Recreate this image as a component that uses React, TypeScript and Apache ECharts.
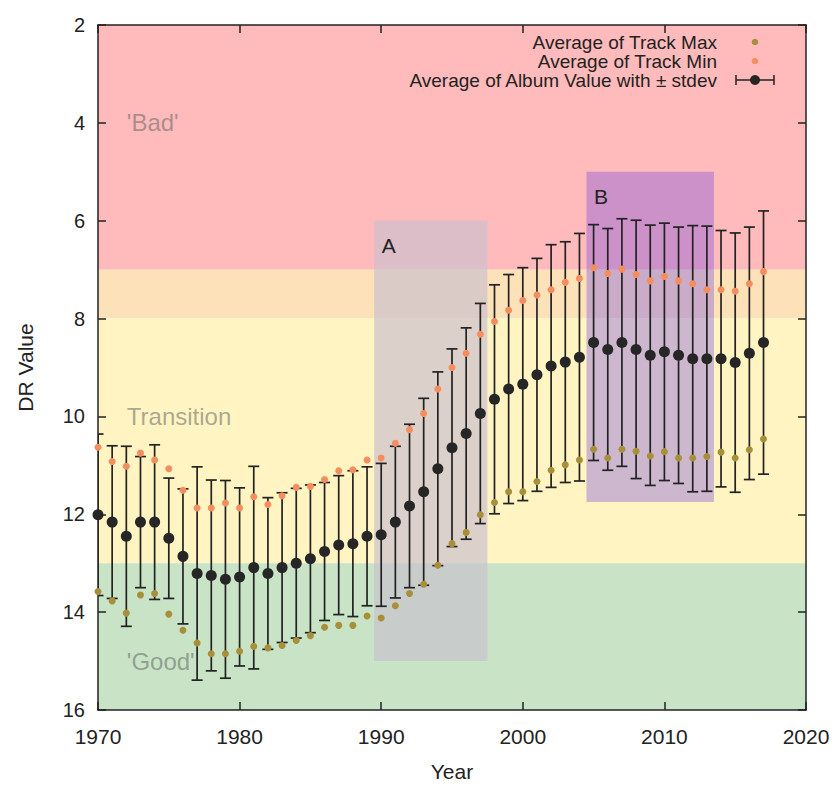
import { useEffect, useRef } from "react";
import * as echarts from "echarts";

const YEARS = [
  1970, 1971, 1972, 1973, 1974, 1975, 1976, 1977, 1978, 1979,
  1980, 1981, 1982, 1983, 1984, 1985, 1986, 1987, 1988, 1989,
  1990, 1991, 1992, 1993, 1994, 1995, 1996, 1997, 1998, 1999,
  2000, 2001, 2002, 2003, 2004, 2005, 2006, 2007, 2008, 2009,
  2010, 2011, 2012, 2013, 2014, 2015, 2016, 2017,
];

const ALBUM_AVG = [
  12.01, 12.16, 12.45, 12.16, 12.16, 12.49, 12.86, 13.21, 13.25, 13.33,
  13.28, 13.09, 13.21, 13.09, 13.0, 12.91, 12.76, 12.63, 12.6, 12.45,
  12.42, 12.16, 11.83, 11.54, 11.07, 10.64, 10.35, 9.94, 9.65, 9.44,
  9.34, 9.15, 8.97, 8.89, 8.79, 8.49, 8.63, 8.49, 8.63, 8.75,
  8.68, 8.75, 8.82, 8.82, 8.82, 8.9, 8.71, 8.49,
];

const ALBUM_SD = [
  1.65, 1.56, 1.84, 1.34, 1.58, 1.23, 1.38, 2.18, 1.95, 2.02,
  1.82, 2.07, 1.55, 1.53, 1.53, 1.51, 1.41, 1.42, 1.49, 1.42,
  1.46, 1.55, 1.67, 1.91, 1.98, 2.02, 2.16, 2.25, 2.34, 2.34,
  2.38, 2.38, 2.48, 2.46, 2.53, 2.41, 2.47, 2.53, 2.64, 2.66,
  2.63, 2.62, 2.72, 2.71, 2.62, 2.65, 2.58, 2.69,
];

const TRACK_MIN = [
  10.63, 10.92, 11.02, 10.75, 10.89, 11.07, 11.51, 11.87, 11.87, 11.77,
  11.87, 11.64, 11.8, 11.62, 11.45, 11.43, 11.29, 11.11, 11.09, 10.89,
  10.85, 10.55, 10.27, 9.94, 9.44, 9.0, 8.71, 8.32, 8.06, 7.83,
  7.63, 7.52, 7.41, 7.26, 7.18, 6.96, 7.08, 6.99, 7.1, 7.23,
  7.14, 7.23, 7.29, 7.41, 7.41, 7.44, 7.29, 7.04,
];

const TRACK_MAX = [
  13.58, 13.77, 14.02, 13.65, 13.62, 14.04, 14.37, 14.63, 14.85, 14.85,
  14.8, 14.7, 14.73, 14.68, 14.58, 14.48, 14.31, 14.27, 14.27, 14.08,
  14.12, 13.87, 13.62, 13.43, 13.04, 12.6, 12.37, 12.01, 11.76, 11.54,
  11.54, 11.33, 11.1, 10.99, 10.89, 10.67, 10.85, 10.67, 10.71, 10.81,
  10.72, 10.85, 10.85, 10.82, 10.73, 10.85, 10.68, 10.46,
];

const X_RANGE = [1970, 2020];
const X_STEP = 10;
const Y_RANGE = [2, 16];
const Y_STEP = 2;

// zone boundaries (DR values): Bad | overlap | Transition | Good
const ZONE_BOUNDS = [2, 7, 8, 13, 16];
const ZONE_LABELS = ["'Bad'", "Transition", "'Good'"];
const ZONE_LABEL_X = [1972, 1972, 1972];
const ZONE_LABEL_Y = [4, 10, 15];

// highlighted periods
const BOX_NAMES = ["A", "B"];
const BOX_X0 = [1989.5, 2004.5];
const BOX_X1 = [1997.5, 2013.5];
const BOX_Y0 = [6, 5];
const BOX_Y1 = [15, 11.75];
const BOX_LABEL_X = [1990, 2005];
const BOX_LABEL_Y = [6.5, 5.5];

const LEGEND_NAMES = [
  "Average of Track Max",
  "Average of Track Min",
  "Average of Album Value with \u00b1 stdev",
];

const FONT = "'Liberation Sans', Arial, Helvetica, sans-serif";
const INK = "#222";
const OLIVE = "#a88f3a";
const ORANGE = "#f58d5e";
const DOT = "#262626";
const ZONE_COLORS = ["#ffbbbb", "#fde2b9", "#fff4c2", "#c8e3c5"];
const BOX_COLORS = ["rgba(200,192,206,0.66)", "rgba(100,60,230,0.33)"];

export default function App() {
  const ref = useRef<HTMLDivElement>(null);

  useEffect(() => {
    document.body.style.margin = "0";
    if (!ref.current) return;
    const chart = echarts.init(ref.current, undefined, { renderer: "svg" });

    const errData = YEARS.map((y, i) => [
      y,
      ALBUM_AVG[i] - ALBUM_SD[i],
      ALBUM_AVG[i] + ALBUM_SD[i],
    ]);

    const bandAreas = ZONE_COLORS.map((c, i) => [
      { yAxis: ZONE_BOUNDS[i], itemStyle: { color: c } },
      { yAxis: ZONE_BOUNDS[i + 1] },
    ]);

    const boxAreas = BOX_NAMES.map((_, i) => [
      {
        coord: [BOX_X0[i], BOX_Y0[i]],
        itemStyle: { color: BOX_COLORS[i] },
      },
      { coord: [BOX_X1[i], BOX_Y1[i]] },
    ]);

    const labelPoints = [
      ...ZONE_LABELS.map((n, i) => ({
        name: n,
        coord: [ZONE_LABEL_X[i], ZONE_LABEL_Y[i]],
        label: {
          fontSize: 24,
          color: "rgba(100,100,100,0.55)",
        },
      })),
      ...BOX_NAMES.map((n, i) => ({
        name: n,
        coord: [BOX_LABEL_X[i], BOX_LABEL_Y[i]],
        label: { fontSize: 21, color: INK },
      })),
    ];

    const axisLine = { show: true, onZero: false, lineStyle: { color: INK, width: 1.5 } };
    const axisTick = { show: true, inside: true, length: 8, lineStyle: { color: INK, width: 1.5 } };

    const legendRows = [42, 61, 80];
    const legendTextRight = 717;
    const legendIconX = 755;

    const graphic: any[] = [
      ...LEGEND_NAMES.map((t, i) => ({
        type: "text",
        x: legendTextRight,
        y: legendRows[i],
        z: 100,
        style: {
          text: t,
          fill: INK,
          fontSize: 19,
          lineHeight: 19,
          fontFamily: FONT,
          align: "right",
          verticalAlign: "middle",
        },
      })),
      {
        type: "circle",
        z: 100,
        shape: { cx: legendIconX, cy: legendRows[0], r: 3.3 },
        style: { fill: OLIVE },
      },
      {
        type: "circle",
        z: 100,
        shape: { cx: legendIconX, cy: legendRows[1], r: 3.3 },
        style: { fill: ORANGE },
      },
      {
        type: "line",
        z: 100,
        shape: { x1: legendIconX - 19, y1: legendRows[2], x2: legendIconX + 19, y2: legendRows[2] },
        style: { stroke: INK, lineWidth: 1.5 },
      },
      {
        type: "line",
        z: 100,
        shape: { x1: legendIconX - 19, y1: legendRows[2] - 5, x2: legendIconX - 19, y2: legendRows[2] + 5 },
        style: { stroke: INK, lineWidth: 1.5 },
      },
      {
        type: "line",
        z: 100,
        shape: { x1: legendIconX + 19, y1: legendRows[2] - 5, x2: legendIconX + 19, y2: legendRows[2] + 5 },
        style: { stroke: INK, lineWidth: 1.5 },
      },
      {
        type: "circle",
        z: 100,
        shape: { cx: legendIconX, cy: legendRows[2], r: 5 },
        style: { fill: DOT },
      },
    ];

    chart.setOption({
      animation: false,
      backgroundColor: "#ffffff",
      textStyle: { fontFamily: FONT },
      grid: { left: 98, right: 30, top: 25, bottom: 70, containLabel: false },
      xAxis: [
        {
          type: "value",
          position: "bottom",
          min: X_RANGE[0],
          max: X_RANGE[1],
          interval: X_STEP,
          axisLine,
          axisTick,
          splitLine: { show: false },
          axisLabel: {
            fontSize: 21,
            color: INK,
            margin: 16,
            fontFamily: FONT,
            formatter: (v: number) => String(v),
          },
          name: "Year",
          nameLocation: "middle",
          nameGap: 51,
          nameTextStyle: { fontSize: 21, color: INK, fontFamily: FONT },
        },
        {
          type: "value",
          position: "top",
          min: X_RANGE[0],
          max: X_RANGE[1],
          interval: X_STEP,
          axisLine,
          axisTick,
          splitLine: { show: false },
          axisLabel: { show: false },
        },
      ],
      yAxis: [
        {
          type: "value",
          position: "left",
          inverse: true,
          min: Y_RANGE[0],
          max: Y_RANGE[1],
          interval: Y_STEP,
          axisLine,
          axisTick,
          splitLine: { show: false },
          axisLabel: {
            fontSize: 20,
            color: INK,
            margin: 13,
            fontFamily: FONT,
            formatter: (v: number) => String(v),
          },
          name: "DR Value",
          nameLocation: "middle",
          nameRotate: 90,
          nameGap: 62,
          nameTextStyle: { fontSize: 21, color: INK, fontFamily: FONT },
        },
        {
          type: "value",
          position: "right",
          inverse: true,
          min: Y_RANGE[0],
          max: Y_RANGE[1],
          interval: Y_STEP,
          axisLine,
          axisTick,
          splitLine: { show: false },
          axisLabel: { show: false },
        },
      ],
      series: [
        {
          name: LEGEND_NAMES[0],
          type: "scatter",
          symbol: "circle",
          symbolSize: 7,
          z: 4,
          itemStyle: { color: OLIVE, opacity: 1 },
          data: YEARS.map((y, i) => [y, TRACK_MAX[i]]),
          markArea: {
            silent: true,
            z: 0,
            itemStyle: { borderWidth: 0 },
            label: { show: false },
            data: bandAreas,
          },
        },
        {
          name: LEGEND_NAMES[1],
          type: "scatter",
          symbol: "circle",
          symbolSize: 7,
          z: 4,
          itemStyle: { color: ORANGE, opacity: 1 },
          data: YEARS.map((y, i) => [y, TRACK_MIN[i]]),
          markArea: {
            silent: true,
            z: 1,
            itemStyle: { borderWidth: 0 },
            label: { show: false },
            data: boxAreas,
          },
        },
        {
          name: "stdev",
          type: "custom",
          z: 3,
          clip: true,
          data: errData,
          encode: { x: 0, y: [1, 2] },
          renderItem: (params: any, api: any) => {
            const x = api.value(0);
            const lo = api.coord([x, api.value(1)]);
            const hi = api.coord([x, api.value(2)]);
            const w = 5.5;
            const st = { stroke: INK, lineWidth: 1.7 };
            return {
              type: "group",
              children: [
                { type: "line", shape: { x1: lo[0], y1: lo[1], x2: hi[0], y2: hi[1] }, style: st },
                { type: "line", shape: { x1: lo[0] - w, y1: lo[1], x2: lo[0] + w, y2: lo[1] }, style: st },
                { type: "line", shape: { x1: hi[0] - w, y1: hi[1], x2: hi[0] + w, y2: hi[1] }, style: st },
              ],
            };
          },
        },
        {
          name: LEGEND_NAMES[2],
          type: "scatter",
          symbol: "circle",
          symbolSize: 11,
          z: 5,
          itemStyle: { color: DOT, opacity: 1 },
          data: YEARS.map((y, i) => [y, ALBUM_AVG[i]]),
          markPoint: {
            silent: true,
            symbol: "circle",
            symbolSize: 1,
            itemStyle: { color: "rgba(0,0,0,0)" },
            label: {
              show: true,
              position: "right",
              distance: 0,
              fontFamily: FONT,
              formatter: (p: any) => p.name,
            },
            data: labelPoints,
          },
        },
      ],
      graphic,
    });

    return () => {
      chart.dispose();
    };
  }, []);

  return <div ref={ref} style={{ width: 836, height: 787 }} />;
}
